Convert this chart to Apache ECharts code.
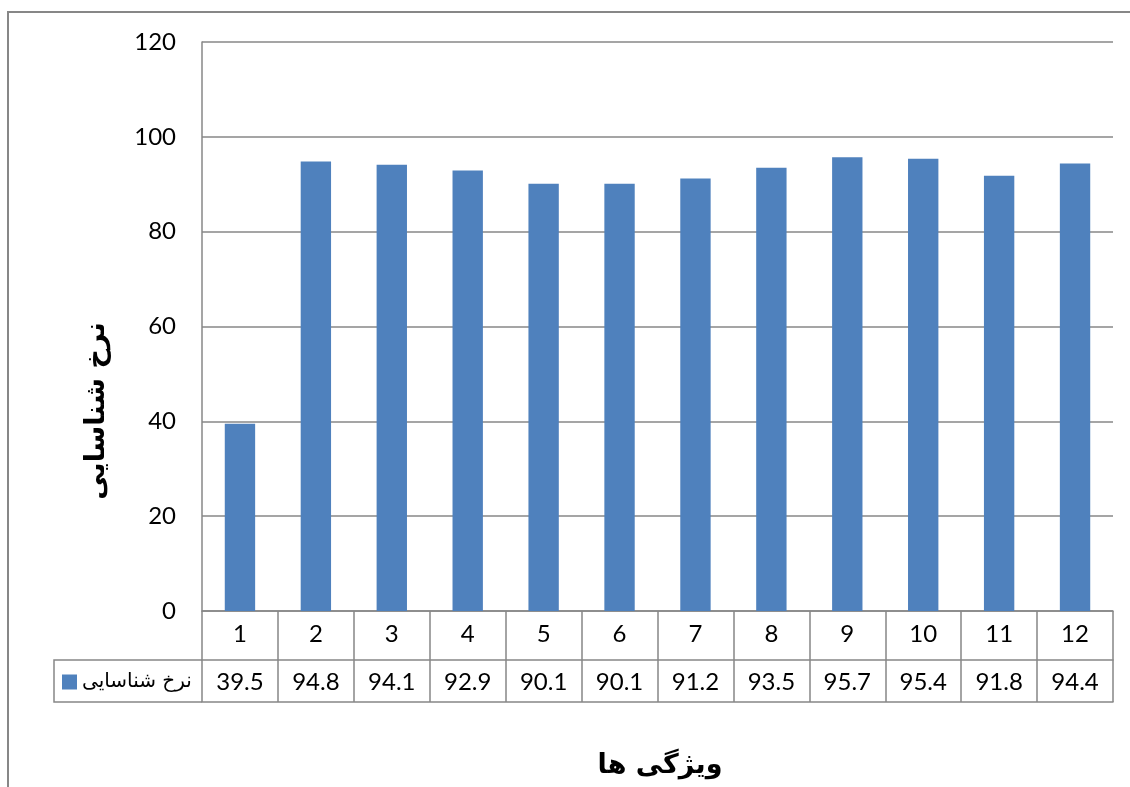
<!DOCTYPE html>
<html>
<head>
<meta charset="utf-8">
<script src="https://cdn.jsdelivr.net/npm/echarts@6/dist/echarts.min.js"></script>
<style>
  html, body { margin: 0; padding: 0; background: #ffffff; }
  #chart { width: 1130px; height: 787px; }
</style>
</head>
<body>
<div id="chart"></div>
<script>
// Feature indices and detection rate per feature
const categories = ['1', '2', '3', '4', '5', '6', '7', '8', '9', '10', '11', '12'];
const detectionRate = [39.5, 94.8, 94.1, 92.9, 90.1, 90.1, 91.2, 93.5, 95.7, 95.4, 91.8, 94.4];
const seriesName = 'نرخ شناسایی';
const yAxisTitle = 'نرخ شناسایی';
const xAxisTitle = 'ویژگی ها';

const LINE = '#878787';
const FONT = 'Lato, "Open Sans", "DejaVu Sans", sans-serif';
const TITLE_FONT = '"DejaVu Sans", sans-serif';
const NUM_SIZE = 24;

// layout of plot area and the data table rows under it
const W = 1130, H = 787;
const plotLeft = 202, plotRight = 1113, plotTop = 42, plotBottom = 611;
const row1 = 49, row2 = 91;          // table row boundaries below the axis
const keyLeft = 54;                  // left edge of the series key cell

const chart = echarts.init(document.getElementById('chart'), null, { renderer: 'canvas' });

const tableAxis = (offset, showLabel, labels, margin) => ({
  type: 'category',
  data: categories,
  position: 'bottom',
  offset: offset,
  axisLine: { show: true, lineStyle: { color: LINE, width: 1.5 } },
  axisTick: { show: false },
  axisLabel: showLabel ? {
    show: true, interval: 0, margin: margin,
    color: '#000', fontSize: NUM_SIZE, fontFamily: FONT,
    formatter: (v, i) => labels[i]
  } : { show: false },
  splitLine: { show: false }
});

chart.setOption({
  animation: false,
  backgroundColor: '#ffffff',
  grid: { left: plotLeft, right: W - plotRight, top: plotTop, bottom: H - plotBottom, containLabel: false },
  legend: {
    show: true,
    data: [seriesName],
    left: 62, top: 672,
    icon: 'rect',
    itemWidth: 15, itemHeight: 15, itemGap: 5,
    textStyle: { color: '#000', fontSize: 20, fontFamily: TITLE_FONT },
    padding: 0
  },
  yAxis: {
    type: 'value',
    min: 0, max: 120, interval: 20,
    axisLine: { show: true, lineStyle: { color: LINE, width: 1.5 } },
    axisTick: { show: false },
    axisLabel: { color: '#000', fontSize: NUM_SIZE, fontFamily: FONT, margin: 26 },
    splitLine: { show: true, lineStyle: { color: LINE, width: 1.5 } }
  },
  xAxis: [
    {
      type: 'category',
      data: categories,
      position: 'bottom',
      axisLine: { show: true, lineStyle: { color: LINE, width: 1.5 } },
      axisTick: { show: true, interval: 0, length: row2, lineStyle: { color: LINE, width: 1.5 } },
      axisLabel: { show: true, interval: 0, margin: 11, color: '#000', fontSize: NUM_SIZE, fontFamily: FONT },
      splitLine: { show: false }
    },
    tableAxis(row1, true, detectionRate.map(v => v.toFixed(1)), 10),
    tableAxis(row2, false, [], 0)
  ],
  series: [{
    name: seriesName,
    type: 'bar',
    xAxisIndex: 0,
    data: detectionRate,
    barWidth: '40%',
    itemStyle: { color: '#4F81BD' }
  }],
  graphic: [
    // outer chart frame
    {
      type: 'rect', silent: true,
      shape: { x: 8, y: 12, width: 1400, height: 1000 },
      style: { fill: null, stroke: LINE, lineWidth: 2 }
    },
    // series key cell of the data table
    {
      type: 'polyline', silent: true,
      shape: { points: [[plotLeft, plotBottom + row1], [keyLeft, plotBottom + row1], [keyLeft, plotBottom + row2], [plotLeft, plotBottom + row2]] },
      style: { fill: null, stroke: LINE, lineWidth: 1.5 }
    },
    {
      type: 'text', silent: true,
      x: 97, y: 411, rotation: Math.PI / 2,
      style: {
        text: yAxisTitle, fill: '#000', fontSize: 27, fontWeight: 'bold',
        fontFamily: TITLE_FONT, align: 'center', verticalAlign: 'middle'
      }
    },
    {
      type: 'text', silent: true,
      x: 660, y: 766,
      style: {
        text: xAxisTitle, fill: '#000', fontSize: 27, fontWeight: 'bold',
        fontFamily: TITLE_FONT, align: 'center', verticalAlign: 'middle'
      }
    }
  ]
});
</script>
</body>
</html>
